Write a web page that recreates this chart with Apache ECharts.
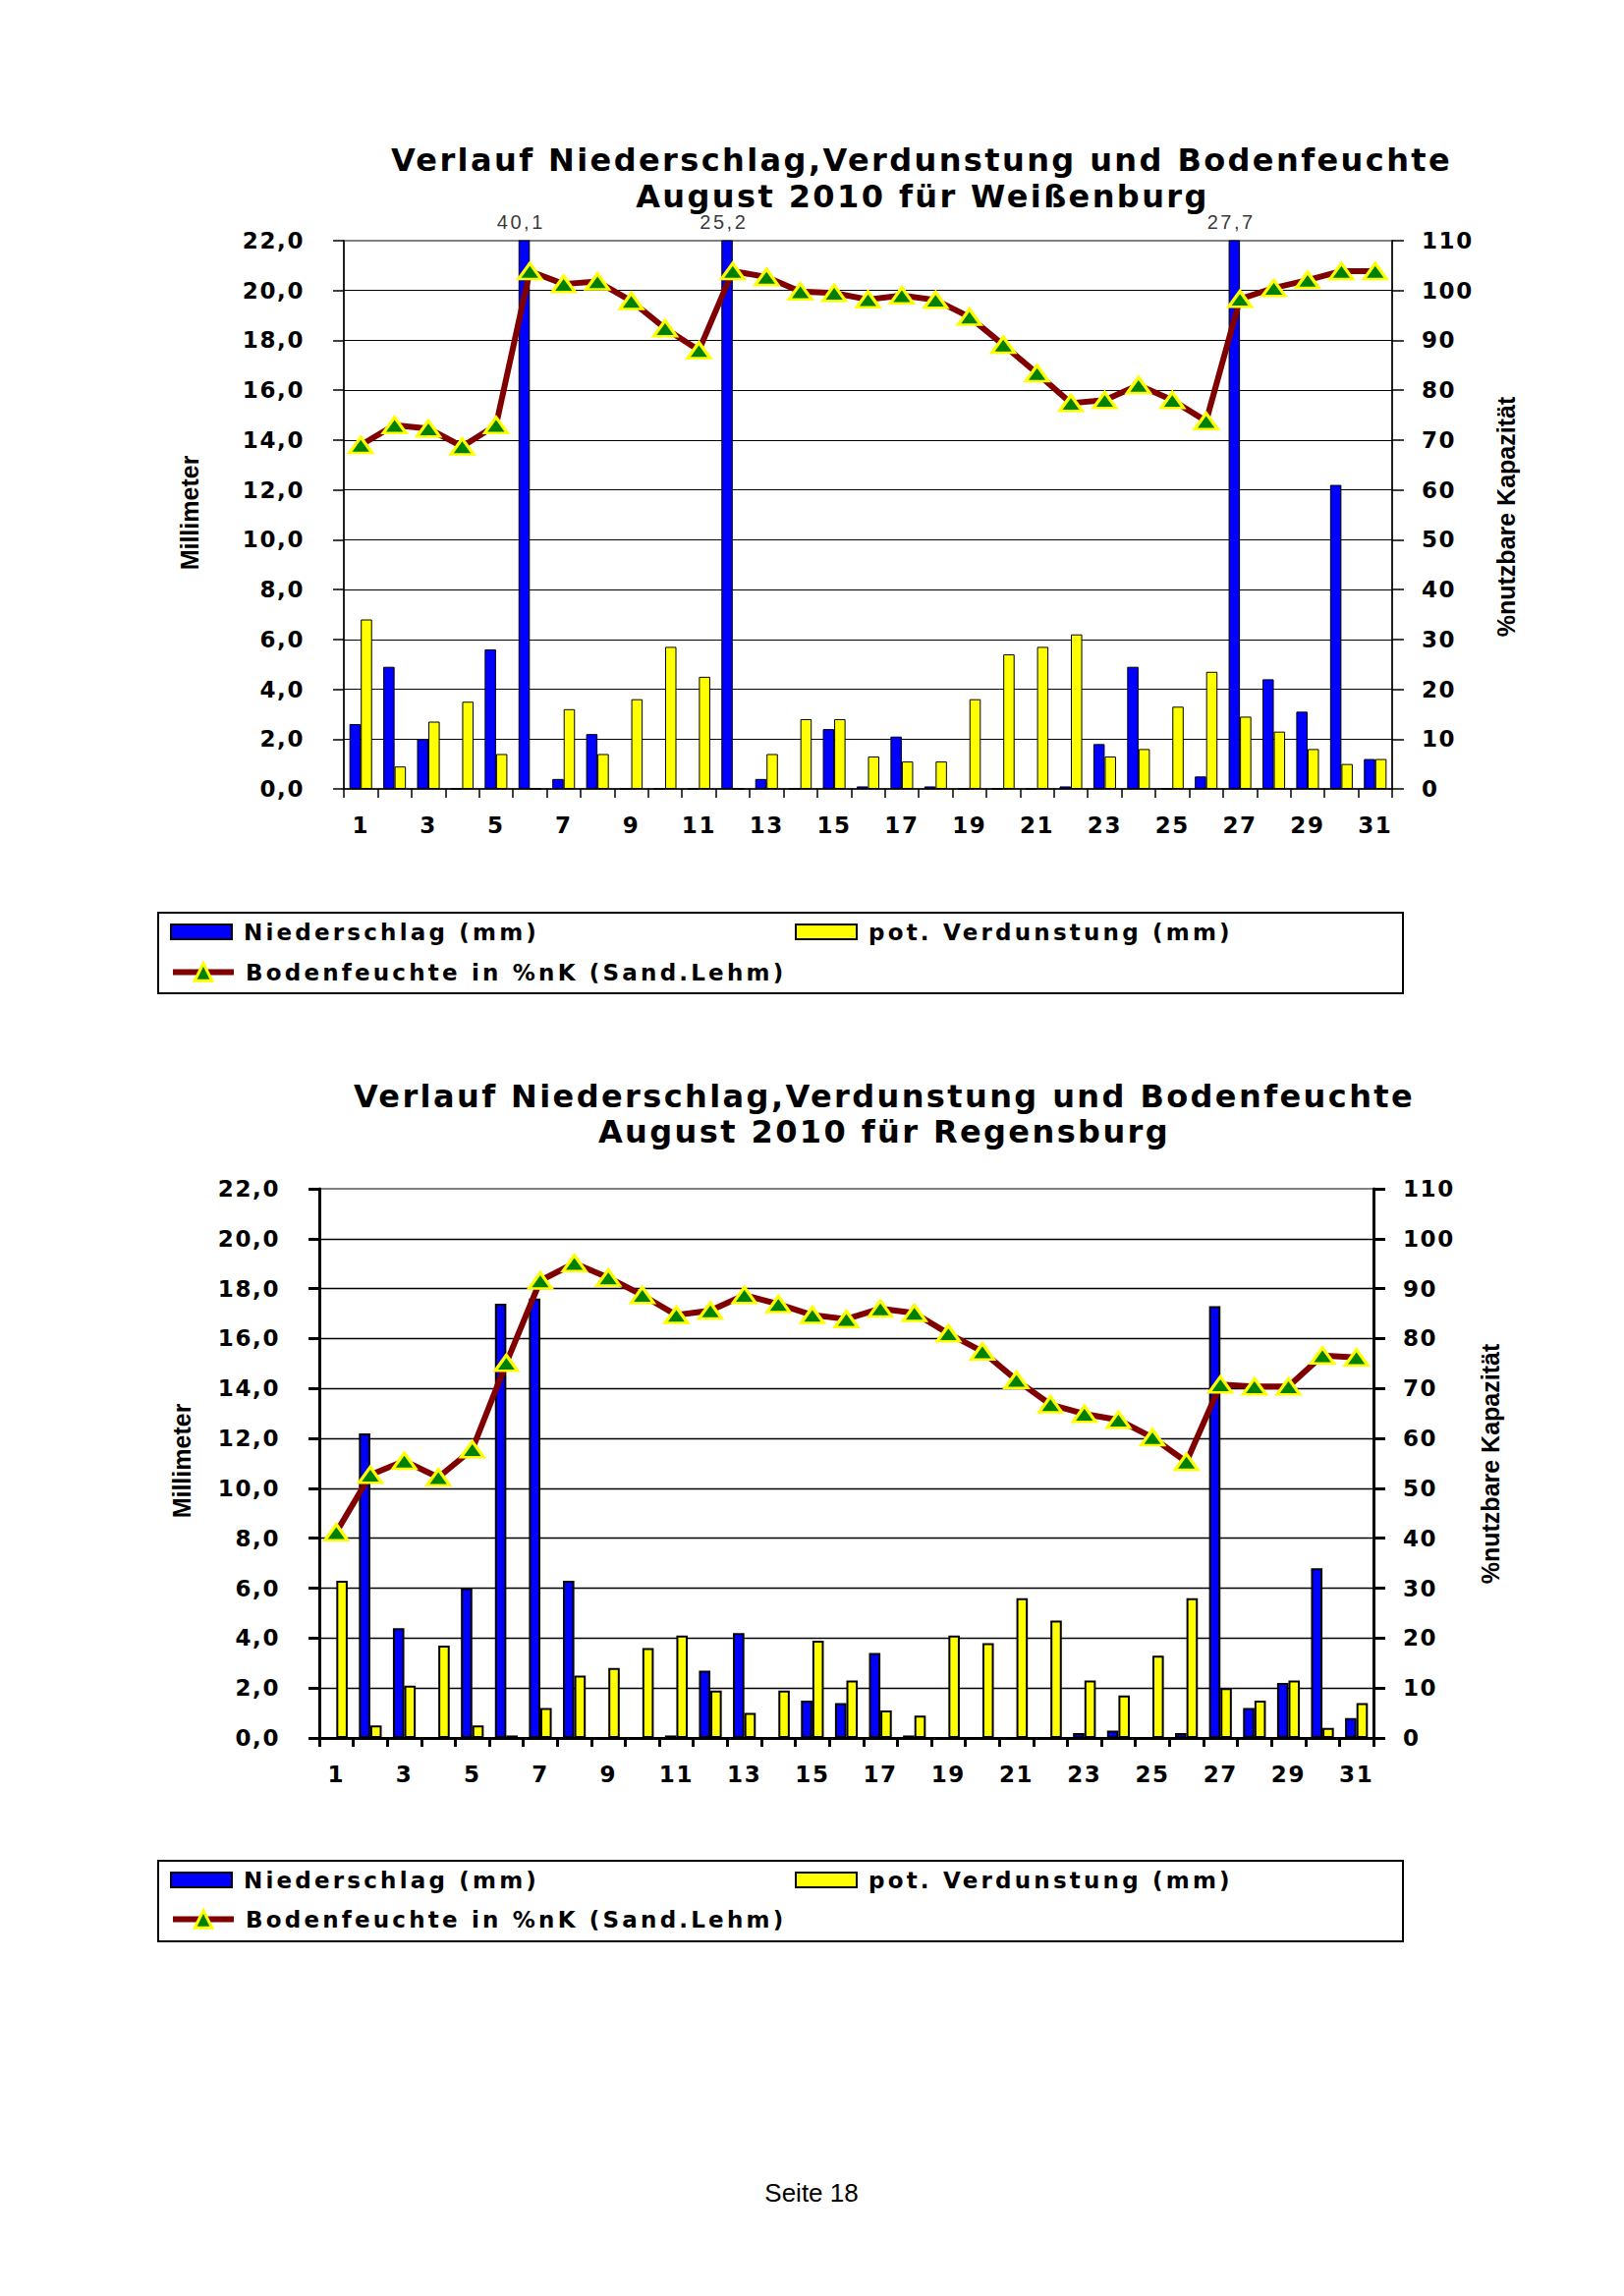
<!DOCTYPE html>
<html>
<head>
<meta charset="utf-8">
<script src="https://cdn.jsdelivr.net/npm/echarts/dist/echarts.min.js"></script>
<style>
html,body{margin:0;padding:0;background:#fff;}
#c{width:1653px;height:2337px;}
</style>
</head>
<body>
<div id="c"></div>
<script>
// ---------------- DATA ----------------
const days = ['1','2','3','4','5','6','7','8','9','10','11','12','13','14','15','16','17','18','19','20','21','22','23','24','25','26','27','28','29','30','31'];

// Weißenburg
const weissNiederschlag = [2.6,4.9,2.0,0,5.6,40.1,0.4,2.2,0,0,0,25.2,0.4,0,2.4,0.1,2.1,0.1,0,0,0,0.1,1.8,4.9,0,0.5,27.7,4.4,3.1,12.2,1.2];
const weissVerdunstung  = [6.8,0.9,2.7,3.5,1.4,0,3.2,1.4,3.6,5.7,4.5,0,1.4,2.8,2.8,1.3,1.1,1.1,3.6,5.4,5.7,6.2,1.3,1.6,3.3,4.7,2.9,2.3,1.6,1.0,1.2];
const weissBodenfeuchte = [69.0,73.0,72.3,68.7,73.0,103.9,101.3,101.8,97.9,92.4,88.0,103.9,102.7,99.8,99.5,98.2,99.0,98.1,94.7,89.1,83.4,77.4,78.0,81.0,78.0,73.8,98.3,100.5,102.1,103.9,103.9];

// Regensburg
const regNiederschlag = [0,12.2,4.4,0,6.0,17.4,17.6,6.3,0,0,0.1,2.7,4.2,0,1.5,1.4,3.4,0.1,0,0,0,0,0.2,0.3,0,0.2,17.3,1.2,2.2,6.8,0.8];
const regVerdunstung  = [6.3,0.5,2.1,3.7,0.5,0.1,1.2,2.5,2.8,3.6,4.1,1.9,1.0,1.9,3.9,2.3,1.1,0.9,4.1,3.8,5.6,4.7,2.3,1.7,3.3,5.6,2.0,1.5,2.3,0.4,1.4];
const regBodenfeuchte = [41.2,52.7,55.5,52.2,57.8,75.1,91.6,95.1,92.2,88.7,84.7,85.6,88.7,86.9,84.7,83.9,86.0,85.1,81.0,77.4,71.7,66.8,64.9,63.7,60.2,55.3,70.8,70.4,70.4,76.6,76.2];

// axis scales
const mmAxis  = {min: 0, max: 22, interval: 2};
const pctAxis = {min: 0, max: 110, interval: 10};

// texts
const titleLine1 = 'Verlauf Niederschlag,Verdunstung und Bodenfeuchte';
const titleWeiss = 'August 2010 für Weißenburg';
const titleReg   = 'August 2010 für Regensburg';
const nameNied  = 'Niederschlag (mm)';
const nameVerd  = 'pot. Verdunstung (mm)';
const nameBoden = 'Bodenfeuchte in %nK (Sand.Lehm)';
const leftName  = 'Millimeter';
const rightName = '%nutzbare Kapazität';
const footer    = 'Seite 18';

// ---------------- OPTION BUILD ----------------
const FONT = "'DejaVu Sans', Verdana, sans-serif";
const mmFmt = v => Number(v).toFixed(1).replace('.', ',');

const charts = [
  {grid:{left:350, top:245, width:1067, height:558}, aw:1.5, bw:1, gw:1,
   nied:weissNiederschlag, verd:weissVerdunstung, boden:weissBodenfeuchte,
   t1:[938,163], t2:[939,200], t2text:titleWeiss,
   lname:[193,522], rname:[1533,526],
   legendBox:[161,929,1267,82], row1:950, row2:991},
  {grid:{left:325, top:1210, width:1073, height:559}, aw:3, bw:2, gw:1.3,
   nied:regNiederschlag, verd:regVerdunstung, boden:regBodenfeuchte,
   t1:[900,1116], t2:[900,1152], t2text:titleReg,
   lname:[185,1487], rname:[1517,1490],
   legendBox:[161,1894,1267,82], row1:1915, row2:1955}
];

const grid = [], xAxis = [], yAxis = [], series = [], legend = [], graphic = [];

const tickFont = {fontFamily: FONT, fontWeight: 'bold', fontSize: 23, color: '#000'};

charts.forEach((c, gi) => {
  grid.push(Object.assign({show: true, borderColor: '#808080', borderWidth: 2,
    backgroundColor: 'transparent', containLabel: false, outerBoundsMode: 'none'}, c.grid));

  xAxis.push({
    type: 'category', gridIndex: gi, data: days, boundaryGap: true,
    axisLine: {show: true, onZero: false, lineStyle: {color: '#000', width: c.aw}},
    axisTick: {show: true, interval: 0, length: 9, lineStyle: {color: '#000', width: c.aw}},
    axisLabel: Object.assign({interval: 1, margin: 25}, tickFont),
    splitLine: {show: false}
  });

  yAxis.push({
    type: 'value', gridIndex: gi, position: 'left',
    min: mmAxis.min, max: mmAxis.max, interval: mmAxis.interval,
    axisLine: {show: true, lineStyle: {color: '#000', width: c.aw}},
    axisTick: {show: true, length: 11, lineStyle: {color: '#000', width: c.aw}},
    axisLabel: Object.assign({margin: 40, formatter: mmFmt}, tickFont),
    splitLine: {show: true, showMaxLine: false, showMinLine: false, lineStyle: {color: '#000', width: c.gw}}
  });
  yAxis.push({
    type: 'value', gridIndex: gi, position: 'right',
    min: pctAxis.min, max: pctAxis.max, interval: pctAxis.interval,
    axisLine: {show: true, lineStyle: {color: '#000', width: c.aw}},
    axisTick: {show: true, length: 12, lineStyle: {color: '#000', width: c.aw}},
    axisLabel: Object.assign({margin: 30}, tickFont),
    splitLine: {show: false}
  });

  const yl = gi * 2, yr = gi * 2 + 1;
  series.push({
    name: nameNied, type: 'bar', xAxisIndex: gi, yAxisIndex: yl, data: c.nied,
    barGap: '0%', barCategoryGap: '33%', clip: true,
    itemStyle: {color: '#0000ff', borderColor: '#000', borderWidth: c.bw}
  });
  series.push({
    name: nameVerd, type: 'bar', xAxisIndex: gi, yAxisIndex: yl, data: c.verd,
    barGap: '0%', barCategoryGap: '33%', clip: true,
    itemStyle: {color: '#ffff00', borderColor: '#000', borderWidth: c.bw}
  });
  series.push({
    name: nameBoden, type: 'line', xAxisIndex: gi, yAxisIndex: yr, data: c.boden,
    z: 4, symbol: 'triangle', symbolSize: [23, 16], showAllSymbol: true,
    lineStyle: {color: '#800000', width: 6},
    itemStyle: {color: '#008000', borderColor: '#ffff00', borderWidth: 3}
  });
  // value labels for precipitation bars that exceed the axis maximum
  const over = [];
  c.nied.forEach((v, i) => { if (v > mmAxis.max) over.push({value: [i, mmAxis.max], raw: v}); });
  series.push({
    type: 'scatter', xAxisIndex: gi, yAxisIndex: yl, data: over, symbolSize: 0,
    silent: true, clip: false, z: 6,
    label: {show: true, position: 'top', distance: 9, offset: [-9, 0],
      formatter: p => mmFmt(p.data.raw),
      fontFamily: "'Liberation Sans', Arial, sans-serif", fontSize: 20, color: '#000'}
  });

  const legText = {fontFamily: FONT, fontWeight: 'bold', fontSize: 23, color: '#000', padding: [0, 0, 0, 7]};
  const legBase = {padding: 0, itemWidth: 62, itemHeight: 15, selectedMode: false, textStyle: legText};
  legend.push(Object.assign({data: [{name: nameNied, icon: 'rect'}], left: 173, top: c.row1 - 13}, legBase));
  legend.push(Object.assign({data: [{name: nameVerd, icon: 'rect'}], left: 809, top: c.row1 - 13}, legBase));
  legend.push(Object.assign({}, legBase, {
    data: [{name: nameBoden,
      lineStyle: {color: '#800000', width: 6},
      itemStyle: {color: '#008000', borderColor: '#ffff00', borderWidth: 3}}],
    itemHeight: 22, left: 173, top: c.row2 - 13
  }));

  const txt = (text, x, y, font, rot) => ({
    type: 'text', x: x, y: y, rotation: rot || 0, silent: true,
    style: {text: text, x: 0, y: 0, font: font, fill: '#000',
      textAlign: 'center', textVerticalAlign: 'middle', align: 'center', verticalAlign: 'middle'}
  });
  graphic.push(txt(titleLine1, c.t1[0], c.t1[1], "bold 32px 'DejaVu Sans'"));
  graphic.push(txt(c.t2text, c.t2[0], c.t2[1], "bold 32px 'DejaVu Sans'"));
  graphic.push(txt(leftName, c.lname[0], c.lname[1], "bold 25px 'Liberation Sans'", Math.PI / 2));
  graphic.push(txt(rightName, c.rname[0], c.rname[1], "bold 25px 'Liberation Sans'", Math.PI / 2));
  const b = c.legendBox;
  graphic.push({type: 'rect', silent: true, shape: {x: b[0], y: b[1], width: b[2], height: b[3]},
    style: {fill: 'none', stroke: '#000', lineWidth: 2}});
});

graphic.push({type: 'text', x: 826, y: 2232, silent: true,
  style: {text: footer, x: 0, y: 0, font: "26px 'Liberation Sans'", fill: '#000',
    textAlign: 'center', textVerticalAlign: 'middle', align: 'center', verticalAlign: 'middle'}});

const option = {
  animation: false,
  backgroundColor: '#ffffff',
  grid: grid, xAxis: xAxis, yAxis: yAxis, series: series, legend: legend, graphic: graphic,
  tooltip: {show: false}
};

const dom = document.getElementById('c');
const chart = echarts.init(dom, null, {renderer: 'svg', width: 1653, height: 2337});
chart.setOption(option);

// letter spacing to mimic the spaced-out typography of the original
const legendNames = [nameNied, nameVerd, nameBoden];
const spacingBySize = {32: 2.4, 23: 1.6, 20: 2.5};
function applySpacing() {
  dom.querySelectorAll('svg text').forEach(t => {
    let ls;
    if (legendNames.indexOf(t.textContent) >= 0) ls = 3.2;
    else ls = spacingBySize[Math.round(parseFloat(getComputedStyle(t).fontSize))];
    if (ls !== undefined) {
      t.setAttribute('letter-spacing', ls + 'px');
      t.style.letterSpacing = ls + 'px';
    }
  });
}
applySpacing();
chart.on('finished', applySpacing);
</script>
</body>
</html>
